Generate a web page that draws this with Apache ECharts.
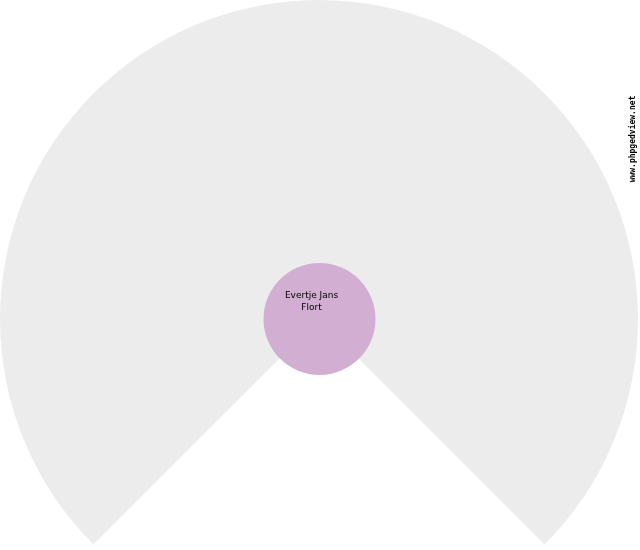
<!DOCTYPE html>
<html>
<head>
<meta charset="utf-8">
<script src="https://cdn.jsdelivr.net/npm/echarts@6/dist/echarts.min.js"></script>
<style>
html, body { margin: 0; padding: 0; background: #fff; }
#chart { width: 640px; height: 550px; }
</style>
</head>
<body>
<div id="chart"></div>
<script>
// fan chart: one person in the middle, empty ancestor fan behind
var personName = 'Evertje Jans\nFlort';
var fanNames = ['fan', 'gap'];
var fanValues = [270, 90];
var fanColors = ['#ececec', 'rgba(0,0,0,0)'];
var watermark = 'www.phpgedview.net';

var chart = echarts.init(document.getElementById('chart'));

var fanData = fanNames.map(function (n, i) {
	return { name: n, value: fanValues[i], itemStyle: { color: fanColors[i] } };
});

chart.setOption({
	animation: false,
	series: [
		{
			type: 'pie',
			center: [319, 319],
			radius: [0, 319],
			startAngle: 225,
			clockwise: true,
			silent: true,
			label: { show: false },
			labelLine: { show: false },
			itemStyle: { borderWidth: 0 },
			data: fanData
		},
		{
			type: 'pie',
			center: [319.5, 319],
			radius: [0, 56],
			silent: true,
			itemStyle: { color: '#d2aed2', borderWidth: 0 },
			label: {
				show: true,
				position: 'center',
				formatter: '{b}',
				fontFamily: 'DejaVu Sans',
				fontSize: 9,
				lineHeight: 12,
				color: '#000',
				offset: [-8, -17]
			},
			labelLine: { show: false },
			data: [{ name: personName, value: 1 }]
		}
	],
	graphic: [{
		type: 'text',
		x: 633,
		y: 139,
		rotation: Math.PI / 2,
		style: {
			text: watermark,
			font: 'bold 8px "DejaVu Sans Mono"',
			fill: '#000',
			align: 'center',
			verticalAlign: 'middle'
		}
	}]
});
</script>
</body>
</html>
